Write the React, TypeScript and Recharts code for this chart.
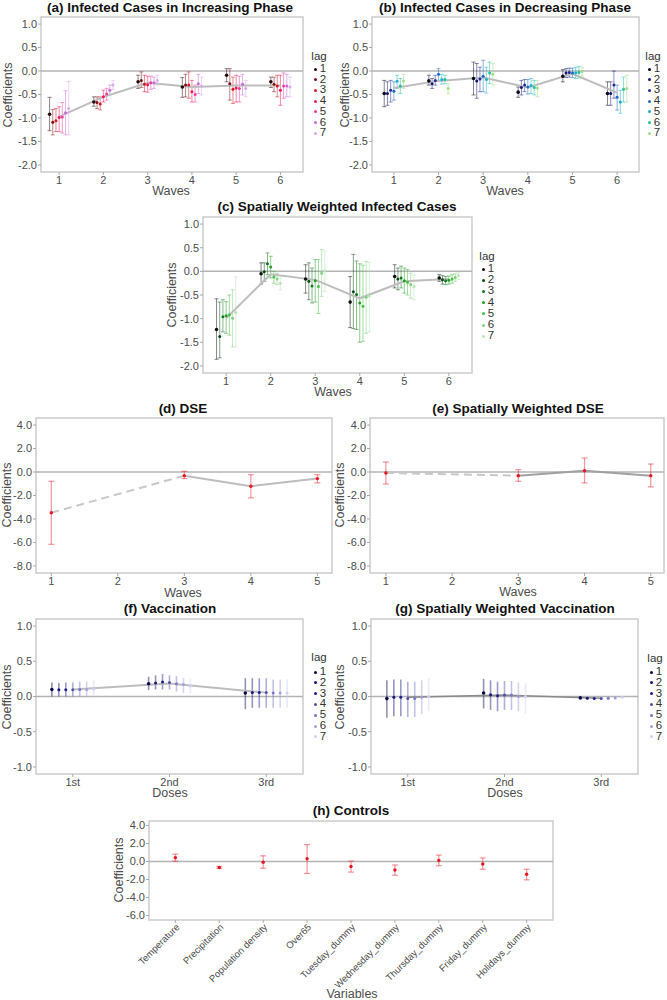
import React from "react";
import {
  ComposedChart,
  Scatter,
  ErrorBar,
  XAxis,
  YAxis,
  ReferenceLine,
  ReferenceArea,
} from "recharts";

const FONT = "'Liberation Sans', Arial, Helvetica, sans-serif";
const TICK_FILL = "#4d4d4d";
const FRAME = "#cccccc";
const ZERO = "#b3b3b3";
const MEAN = "#bdbdbd";
const RED = "#e8141e";
const TICK_SIZE = 11;
const TITLE_SIZE = 13.5;
const AXIS_TITLE_SIZE = 12.5;

const LAGS = [1, 2, 3, 4, 5, 6, 7];
const DODGE = 0.072;
const WAVES6 = [1, 2, 3, 4, 5, 6];
const WAVES_DSE = [1, 3, 4, 5];
const DOSES = ["1st", "2nd", "3rd"];
const VARIABLES = [
  "Temperature",
  "Precipitation",
  "Population density",
  "Over65",
  "Tuesday_dummy",
  "Wednesday_dummy",
  "Thursday_dummy",
  "Friday_dummy",
  "Holidays_dummy",
];

// lag colours per panel
const RED_LAGS = ["#2a0a0a", "#7a0f14", "#d8141c", "#f0145a", "#f03c9c", "#c86ad8", "#dca8f0"];
const BLUE_LAGS = ["#0a0a20", "#141470", "#1a2a9a", "#1a6ac0", "#18b0d0", "#20c0a0", "#a0e080"];
const GREEN_LAGS = ["#0a140a", "#0a4a14", "#0a7a1a", "#20a020", "#40c040", "#80d080", "#b8e8b0"];
const NAVY_LAGS = ["#0a0a50", "#141478", "#1e1e90", "#5050b0", "#7878c8", "#a0a0e0", "#d0d0f0"];

// (a) infected cases, increasing phase: rows = waves, cols = lags
const incEst = [
  [-0.92, -1.09, -1.06, -0.99, -0.98, -0.89, -0.8],
  [-0.66, -0.67, -0.7, -0.55, -0.49, -0.41, -0.3],
  [-0.23, -0.2, -0.28, -0.29, -0.25, -0.25, -0.2],
  [-0.34, -0.3, -0.3, -0.44, -0.5, -0.27, -0.32],
  [-0.09, -0.27, -0.39, -0.36, -0.37, -0.28, -0.37],
  [-0.23, -0.28, -0.32, -0.41, -0.32, -0.32, -0.34],
];
const incLow = [
  [-1.27, -1.36, -1.29, -1.29, -1.32, -1.36, -1.36],
  [-0.75, -0.8, -0.83, -0.66, -0.62, -0.51, -0.39],
  [-0.37, -0.35, -0.44, -0.45, -0.39, -0.37, -0.3],
  [-0.56, -0.55, -0.58, -0.66, -0.66, -0.48, -0.51],
  [-0.23, -0.62, -0.69, -0.66, -0.66, -0.51, -0.55],
  [-0.35, -0.44, -0.55, -0.73, -0.58, -0.55, -0.55],
];
const incHigh = [
  [-0.56, -0.82, -0.8, -0.76, -0.67, -0.42, -0.22],
  [-0.55, -0.55, -0.55, -0.41, -0.37, -0.3, -0.2],
  [-0.09, -0.02, -0.09, -0.11, -0.11, -0.13, -0.09],
  [-0.14, -0.07, -0.02, -0.2, -0.3, -0.07, -0.13],
  [0.05, 0.05, -0.13, -0.09, -0.11, -0.07, -0.2],
  [-0.13, -0.13, -0.09, -0.09, -0.04, -0.07, -0.13],
];
const incMean = [-0.97, -0.55, -0.25, -0.34, -0.31, -0.31];

// (b) infected cases, decreasing phase
const decEst = [
  [-0.48, -0.48, -0.41, -0.43, -0.22, -0.32, -0.21],
  [-0.21, -0.27, -0.2, -0.07, -0.18, -0.18, -0.37],
  [-0.16, -0.21, -0.17, -0.11, -0.18, -0.04, -0.07],
  [-0.45, -0.35, -0.3, -0.34, -0.31, -0.35, -0.36],
  [-0.11, -0.04, -0.03, -0.04, -0.04, -0.03, -0.01],
  [-0.48, -0.48, -0.3, -0.56, -0.66, -0.39, -0.37],
];
const decLow = [
  [-0.76, -0.73, -0.66, -0.62, -0.37, -0.48, -0.37],
  [-0.3, -0.37, -0.3, -0.2, -0.28, -0.27, -0.48],
  [-0.51, -0.58, -0.44, -0.44, -0.47, -0.27, -0.3],
  [-0.56, -0.51, -0.44, -0.49, -0.48, -0.51, -0.55],
  [-0.23, -0.14, -0.13, -0.14, -0.16, -0.15, -0.11],
  [-0.73, -0.73, -0.58, -0.83, -0.9, -0.66, -0.66],
];
const decHigh = [
  [-0.2, -0.23, -0.2, -0.23, -0.09, -0.16, -0.07],
  [-0.09, -0.16, -0.09, 0.05, -0.07, -0.09, -0.27],
  [0.19, 0.16, 0.08, 0.23, 0.08, 0.19, 0.16],
  [-0.34, -0.2, -0.18, -0.18, -0.16, -0.2, -0.2],
  [0.03, 0.05, 0.06, 0.06, 0.08, 0.1, 0.08],
  [-0.23, -0.23, 0.0, -0.3, -0.41, -0.13, -0.09],
];
const decMean = [-0.36, -0.21, -0.14, -0.35, -0.06, -0.46];

// (c) spatially weighted infected cases
const swEst = [
  [-1.23, -1.38, -0.96, -0.94, -0.92, -0.99, -0.87],
  [-0.05, -0.01, 0.16, 0.09, -0.12, -0.16, -0.25],
  [-0.16, -0.21, -0.31, -0.2, -0.32, -0.04, 0.01],
  [-0.65, -0.43, -0.49, -0.67, -0.74, -0.55, -0.52],
  [-0.11, -0.16, -0.14, -0.2, -0.23, -0.28, -0.32],
  [-0.14, -0.18, -0.2, -0.19, -0.16, -0.13, -0.09],
];
const swLow = [
  [-1.86, -1.83, -1.28, -1.31, -1.35, -1.6, -1.6],
  [-0.27, -0.21, -0.07, -0.14, -0.25, -0.28, -0.39],
  [-0.46, -0.6, -0.67, -0.65, -0.89, -0.53, -0.43],
  [-1.19, -1.21, -1.23, -1.5, -1.48, -1.31, -1.28],
  [-0.35, -0.39, -0.35, -0.46, -0.5, -0.57, -0.6],
  [-0.21, -0.27, -0.28, -0.27, -0.25, -0.21, -0.17],
];
const swHigh = [
  [-0.58, -0.65, -0.6, -0.64, -0.5, -0.39, -0.12],
  [0.18, 0.18, 0.39, 0.32, 0.0, -0.04, -0.14],
  [0.14, 0.18, 0.07, 0.25, 0.25, 0.46, 0.43],
  [-0.11, 0.36, 0.22, 0.16, 0.13, 0.21, 0.19],
  [0.14, 0.07, 0.11, 0.07, 0.04, -0.04, -0.08],
  [-0.07, -0.09, -0.11, -0.1, -0.07, -0.05, -0.02],
];
const swMean = [-0.99, -0.06, -0.18, -0.57, -0.21, -0.16];

// (d) DSE and (e) spatially weighted DSE, by wave
const dseEst = [-3.47, -0.31, -1.21, -0.56];
const dseLow = [-6.16, -0.56, -2.2, -0.93];
const dseHigh = [-0.79, 0.06, -0.23, -0.23];
const swDseEst = [-0.08, -0.31, 0.11, -0.31];
const swDseLow = [-1.02, -0.79, -0.93, -1.27];
const swDseHigh = [0.85, 0.2, 1.19, 0.68];

// (f) vaccination: rows = doses, cols = lags
const vacEst = [
  [0.1, 0.095, 0.095, 0.095, 0.1, 0.1, 0.105],
  [0.18, 0.19, 0.205, 0.2, 0.18, 0.17, 0.15],
  [0.05, 0.057, 0.057, 0.057, 0.048, 0.048, 0.048],
];
const vacLow = [
  [0.0, 0.0, 0.0, 0.0, 0.0, 0.0, -0.02],
  [0.09, 0.1, 0.1, 0.1, 0.07, 0.05, 0.04],
  [-0.18, -0.16, -0.16, -0.16, -0.16, -0.16, -0.16],
];
const vacHigh = [
  [0.2, 0.19, 0.2, 0.2, 0.21, 0.21, 0.23],
  [0.28, 0.3, 0.32, 0.3, 0.29, 0.26, 0.25],
  [0.26, 0.26, 0.26, 0.26, 0.24, 0.24, 0.24],
];
const vacMean = [0.1, 0.185, 0.055];

// (g) spatially weighted vaccination
const swVacEst = [
  [-0.03, -0.01, -0.01, -0.03, -0.03, -0.01, 0.0],
  [0.05, 0.025, 0.01, 0.02, 0.02, 0.0, 0.0],
  [-0.02, -0.025, -0.03, -0.03, -0.025, -0.02, -0.01],
];
const swVacLow = [
  [-0.3, -0.28, -0.28, -0.29, -0.29, -0.25, -0.21],
  [-0.17, -0.19, -0.21, -0.19, -0.19, -0.21, -0.24],
  [-0.035, -0.04, -0.045, -0.045, -0.04, -0.035, -0.025],
];
const swVacHigh = [
  [0.23, 0.24, 0.24, 0.21, 0.21, 0.23, 0.26],
  [0.25, 0.23, 0.21, 0.22, 0.22, 0.2, 0.19],
  [-0.005, -0.01, -0.015, -0.015, -0.01, -0.005, 0.005],
];
const swVacMean = [-0.01, 0.02, -0.025];

// (h) controls
const ctrlEst = [0.43, -0.67, -0.08, 0.31, -0.55, -0.94, 0.12, -0.27, -1.41];
const ctrlLow = [0.04, -0.78, -0.75, -1.33, -1.18, -1.53, -0.47, -0.86, -2.04];
const ctrlHigh = [0.82, -0.55, 0.63, 1.88, 0.04, -0.39, 0.71, 0.39, -0.86];

const TICKS_SMALL = [-2, -1.5, -1, -0.5, 0, 0.5, 1];
const TICKS_DSE = [-8, -6, -4, -2, 0, 2, 4];
const TICKS_VAC = [-1, -0.5, 0, 0.5, 1];
const TICKS_CTRL = [-6, -4, -2, 0, 2, 4];

type Box = { left: number; top: number; right: number; bottom: number };

const Y_W = 40;
const PAD = 4;

const dotShape = (fill: string, r: number) => (p: any) =>
  p.cx == null ? <g /> : <circle cx={p.cx} cy={p.cy} r={r} fill={fill} />;

const noShape = () => <g />;

function lagSeries(
  est: number[][],
  lo: number[][],
  hi: number[][],
  xs: number[],
  colors: string[],
  cap: number,
  barWidth: number,
  barOpacity: number
) {
  return LAGS.map((lag, j) => {
    const data = xs.map((x, i) => ({
      x: x + (lag - 4) * DODGE,
      y: est[i][j],
      err: [est[i][j] - lo[i][j], hi[i][j] - est[i][j]],
    }));
    return (
      <Scatter
        key={`lag-${lag}`}
        data={data}
        dataKey="y"
        fill={colors[j]}
        shape={dotShape(colors[j], lag === 1 ? 1.8 : 1.5)}
        isAnimationActive={false}
      >
        <ErrorBar
          dataKey="err"
          direction="y"
          width={cap}
          stroke={colors[j]}
          strokeOpacity={barOpacity}
          strokeWidth={barWidth}
          isAnimationActive={false}
        />
      </Scatter>
    );
  });
}

function meanLine(xs: number[], ys: number[], key: string, stroke = MEAN, dash?: string, width = 2) {
  return (
    <Scatter
      key={key}
      data={xs.map((x, i) => ({ x, y: ys[i] }))}
      dataKey="y"
      fill="none"
      line={{ stroke, strokeWidth: width, strokeDasharray: dash }}
      shape={noShape}
      isAnimationActive={false}
    />
  );
}

function singleSeries(xs: number[], est: number[], lo: number[], hi: number[], key: string) {
  const data = xs.map((x, i) => ({ x, y: est[i], err: [est[i] - lo[i], hi[i] - est[i]] }));
  return (
    <Scatter key={key} data={data} dataKey="y" fill={RED} shape={dotShape(RED, 1.7)} isAnimationActive={false}>
      <ErrorBar dataKey="err" direction="y" width={3} stroke={RED} strokeOpacity={0.45} strokeWidth={1.2} isAnimationActive={false} />
    </Scatter>
  );
}

type PanelProps = {
  box: Box;
  xDomain: [number, number];
  yDomain: [number, number];
  xTicks: number[];
  yTicks: number[];
  xFormat: (v: number) => string;
  xAxisH?: number;
  xTick?: any;
  series: React.ReactNode[];
};

function Panel({ box, xDomain, yDomain, xTicks, yTicks, xFormat, xAxisH = 22, xTick, series }: PanelProps) {
  const width = box.right - box.left + Y_W + PAD;
  const height = box.bottom - box.top + PAD + xAxisH;
  return (
    <div style={{ position: "absolute", left: box.left - Y_W, top: box.top - PAD }}>
      <ComposedChart width={width} height={height} margin={{ top: PAD, right: PAD, bottom: 0, left: 0 }}>
        <XAxis
          type="number"
          dataKey="x"
          domain={xDomain}
          ticks={xTicks}
          interval={0}
          allowDataOverflow
          tickFormatter={xFormat}
          axisLine={false}
          tickLine={{ stroke: "#aaaaaa" }}
          tickSize={3}
          tickMargin={1}
          height={xAxisH}
          tick={xTick ?? { fontSize: TICK_SIZE, fill: TICK_FILL, fontFamily: FONT }}
        />
        <YAxis
          type="number"
          dataKey="y"
          domain={yDomain}
          ticks={yTicks}
          interval={0}
          allowDataOverflow
          tickFormatter={(v: number) => v.toFixed(1)}
          axisLine={false}
          tickLine={{ stroke: "#aaaaaa" }}
          tickSize={3}
          tickMargin={1}
          width={Y_W}
          tick={{ fontSize: TICK_SIZE, fill: TICK_FILL, fontFamily: FONT }}
        />
        <ReferenceLine y={0} stroke={ZERO} strokeWidth={1.5} ifOverflow="hidden" />
        {series}
        <ReferenceArea
          x1={xDomain[0]}
          x2={xDomain[1]}
          y1={yDomain[0]}
          y2={yDomain[1]}
          fill="none"
          stroke={FRAME}
          strokeWidth={1.5}
          ifOverflow="visible"
        />
      </ComposedChart>
    </div>
  );
}

function Label({ x, y, text, size = AXIS_TITLE_SIZE, bold = false, color = "#4d4d4d", vertical = false }: {
  x: number; y: number; text: string; size?: number; bold?: boolean; color?: string; vertical?: boolean;
}) {
  return (
    <div
      style={{
        position: "absolute",
        left: x,
        top: y,
        transform: `translate(-50%, -50%)${vertical ? " rotate(-90deg)" : ""}`,
        whiteSpace: "nowrap",
        fontFamily: FONT,
        fontSize: size,
        fontWeight: bold ? 700 : 400,
        color,
        lineHeight: 1,
      }}
    >
      {text}
    </div>
  );
}

function Title({ x, y, text }: { x: number; y: number; text: string }) {
  return <Label x={x} y={y} text={text} size={TITLE_SIZE} bold color="#111" />;
}

function LagLegend({ x, titleY, itemY, step, colors }: { x: number; titleY: number; itemY: number; step: number; colors: string[] }) {
  return (
    <>
      <Label x={x + 6} y={titleY} text="lag" size={11.5} color="#333" />
      {LAGS.map((lag, j) => (
        <React.Fragment key={lag}>
          <div
            style={{
              position: "absolute",
              left: x + 1,
              top: itemY + j * step - 1.5,
              width: 3,
              height: 3,
              borderRadius: "50%",
              background: colors[j],
            }}
          />
          <Label x={x + 10} y={itemY + j * step} text={String(lag)} size={11.5} color="#333" />
        </React.Fragment>
      ))}
    </>
  );
}

// slanted category labels for the controls panel
function SlantTick({ x, y, payload }: any) {
  const name = VARIABLES[Math.round(payload.value) - 1] ?? "";
  const ax = x + 3;
  const ay = y + 2;
  return (
    <text
      x={ax}
      y={ay}
      transform={`rotate(-45 ${ax} ${ay})`}
      textAnchor="end"
      dominantBaseline="middle"
      fontSize={9.5}
      fill={TICK_FILL}
      fontFamily={FONT}
    >
      {name}
    </text>
  );
}

const waveFmt = (v: number) => String(v);
const doseFmt = (v: number) => DOSES[Math.round(v) - 1] ?? "";

export default function App() {
  const doseX = [1, 2, 3];
  const ctrlX = VARIABLES.map((_, i) => i + 1);
  return (
    <div style={{ position: "absolute", left: 0, top: 0, width: 667, height: 1000, background: "#fff", fontFamily: FONT }}>
      {/* (a) */}
      <Title x={170} y={8} text="(a) Infected Cases in Increasing Phase" />
      <Panel
        box={{ left: 41, top: 17, right: 303, bottom: 172 }}
        xDomain={[0.59, 6.51]}
        yDomain={[-2.15, 1.15]}
        xTicks={WAVES6}
        yTicks={TICKS_SMALL}
        xFormat={waveFmt}
        series={[meanLine(WAVES6, incMean, "mean"), ...lagSeries(incEst, incLow, incHigh, WAVES6, RED_LAGS, 2, 1, 0.5)]}
      />
      <Label x={8} y={95} text="Coefficients" vertical />
      <Label x={171} y={191} text="Waves" />
      <LagLegend x={313} titleY={57} itemY={69} step={10.7} colors={RED_LAGS} />

      {/* (b) */}
      <Title x={505} y={8} text="(b) Infected Cases in Decreasing Phase" />
      <Panel
        box={{ left: 372, top: 17, right: 639, bottom: 172 }}
        xDomain={[0.51, 6.49]}
        yDomain={[-2.15, 1.15]}
        xTicks={WAVES6}
        yTicks={TICKS_SMALL}
        xFormat={waveFmt}
        series={[meanLine(WAVES6, decMean, "mean"), ...lagSeries(decEst, decLow, decHigh, WAVES6, BLUE_LAGS, 2, 1, 0.5)]}
      />
      <Label x={345} y={95} text="Coefficients" vertical />
      <Label x={505} y={191} text="Waves" />
      <LagLegend x={647} titleY={57} itemY={69} step={10.7} colors={BLUE_LAGS} />

      {/* (c) */}
      <Title x={337} y={207} text="(c) Spatially Weighted Infected Cases" />
      <Panel
        box={{ left: 203, top: 217, right: 472, bottom: 373 }}
        xDomain={[0.48, 6.52]}
        yDomain={[-2.15, 1.15]}
        xTicks={WAVES6}
        yTicks={TICKS_SMALL}
        xFormat={waveFmt}
        series={[meanLine(WAVES6, swMean, "mean"), ...lagSeries(swEst, swLow, swHigh, WAVES6, GREEN_LAGS, 2, 1, 0.5)]}
      />
      <Label x={172} y={295} text="Coefficients" vertical />
      <Label x={333} y={392} text="Waves" />
      <LagLegend x={481} titleY={257} itemY={269} step={11.2} colors={GREEN_LAGS} />

      {/* (d) */}
      <Title x={183} y={409} text="(d) DSE" />
      <Panel
        box={{ left: 36, top: 418, right: 332, bottom: 573 }}
        xDomain={[0.77, 5.22]}
        yDomain={[-8.6, 4.6]}
        xTicks={[1, 2, 3, 4, 5]}
        yTicks={TICKS_DSE}
        xFormat={waveFmt}
        series={[
          meanLine([1, 3], [dseEst[0], dseEst[1]], "dash", "#c8c8c8", "8 5"),
          meanLine([3, 4, 5], [dseEst[1], dseEst[2], dseEst[3]], "solid"),
          singleSeries(WAVES_DSE, dseEst, dseLow, dseHigh, "dse"),
        ]}
      />
      <Label x={7} y={495} text="Coefficients" vertical />
      <Label x={183} y={593} text="Waves" />

      {/* (e) */}
      <Title x={518} y={409} text="(e) Spatially Weighted DSE" />
      <Panel
        box={{ left: 370, top: 418, right: 664, bottom: 573 }}
        xDomain={[0.76, 5.2]}
        yDomain={[-8.6, 4.6]}
        xTicks={[1, 2, 3, 4, 5]}
        yTicks={TICKS_DSE}
        xFormat={waveFmt}
        series={[
          meanLine([1, 3], [swDseEst[0], swDseEst[1]], "dash", "#c8c8c8", "8 5"),
          meanLine([3, 4, 5], [swDseEst[1], swDseEst[2], swDseEst[3]], "solid", "#a0a0a0"),
          singleSeries(WAVES_DSE, swDseEst, swDseLow, swDseHigh, "swdse"),
        ]}
      />
      <Label x={340} y={495} text="Coefficients" vertical />
      <Label x={518} y={592} text="Waves" />

      {/* (f) */}
      <Title x={170} y={609} text="(f) Vaccination" />
      <Panel
        box={{ left: 36, top: 619, right: 303, bottom: 774 }}
        xDomain={[0.62, 3.38]}
        yDomain={[-1.1, 1.1]}
        xTicks={doseX}
        yTicks={TICKS_VAC}
        xFormat={doseFmt}
        series={[meanLine(doseX, vacMean, "mean"), ...lagSeries(vacEst, vacLow, vacHigh, doseX, NAVY_LAGS, 0, 1.6, 0.45)]}
      />
      <Label x={7} y={697} text="Coefficients" vertical />
      <Label x={170} y={793} text="Doses" />
      <LagLegend x={313} titleY={658} itemY={672} step={10.8} colors={NAVY_LAGS} />

      {/* (g) */}
      <Title x={505} y={609} text="(g) Spatially Weighted Vaccination" />
      <Panel
        box={{ left: 371, top: 619, right: 638, bottom: 774 }}
        xDomain={[0.62, 3.38]}
        yDomain={[-1.1, 1.1]}
        xTicks={doseX}
        yTicks={TICKS_VAC}
        xFormat={doseFmt}
        series={[meanLine(doseX, swVacMean, "mean", "#8a8a8a", undefined, 1.5), ...lagSeries(swVacEst, swVacLow, swVacHigh, doseX, NAVY_LAGS, 0, 1.6, 0.45)]}
      />
      <Label x={340} y={697} text="Coefficients" vertical />
      <Label x={505} y={793} text="Doses" />
      <LagLegend x={649} titleY={659} itemY={672} step={10.8} colors={NAVY_LAGS} />

      {/* (h) */}
      <Title x={351} y={811} text="(h) Controls" />
      <Panel
        box={{ left: 149, top: 821, right: 553, bottom: 920 }}
        xDomain={[0.4, 9.6]}
        yDomain={[-6.5, 4.5]}
        xTicks={ctrlX}
        yTicks={TICKS_CTRL}
        xFormat={waveFmt}
        xAxisH={76}
        xTick={<SlantTick />}
        series={[singleSeries(ctrlX, ctrlEst, ctrlLow, ctrlHigh, "ctrl")]}
      />
      <Label x={119} y={870} text="Coefficients" vertical />
      <Label x={352} y={994} text="Variables" />
    </div>
  );
}
